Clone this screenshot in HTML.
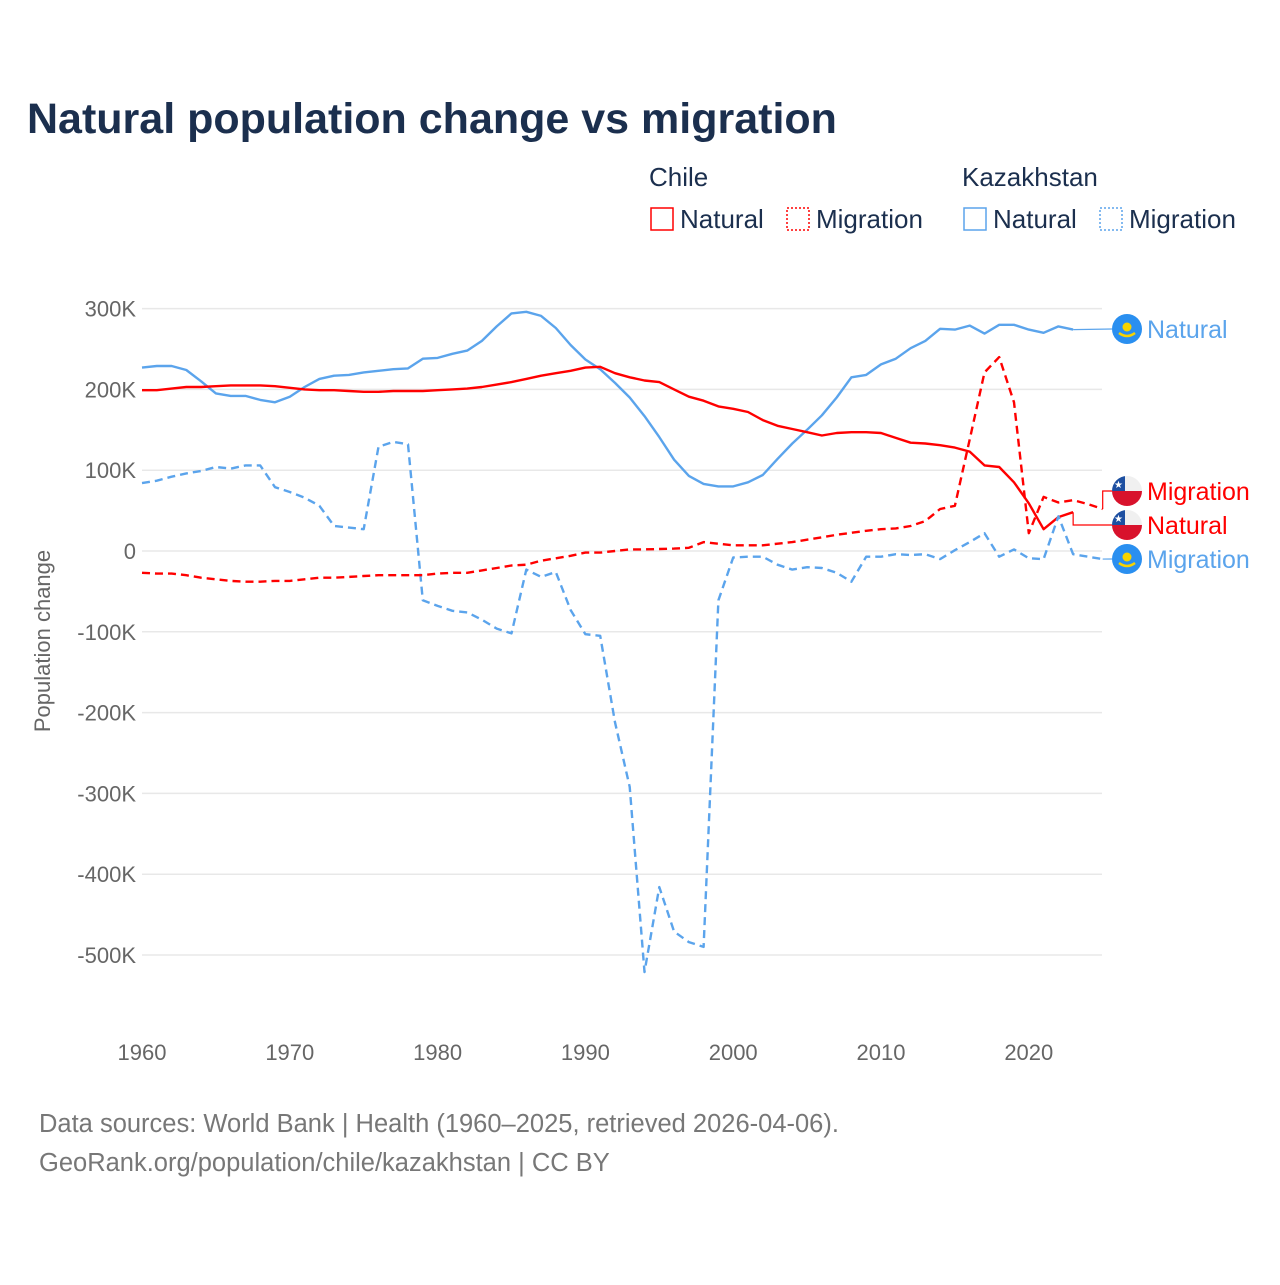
<!DOCTYPE html>
<html><head><meta charset="utf-8"><style>
body{margin:0;background:#fff;width:1280px;height:1280px;overflow:hidden;font-family:"Liberation Sans",sans-serif}
svg text{font-family:"Liberation Sans",sans-serif}
</style></head><body>
<svg id="chart" width="1280" height="1280" xmlns="http://www.w3.org/2000/svg">
<text x="27" y="133" font-size="43" font-weight="bold" fill="#1b2f4e">Natural population change vs migration</text>
<g font-size="26" fill="#1b2f4e">
 <text x="649" y="186">Chile</text>
 <text x="962" y="186">Kazakhstan</text>
 <g><rect x="651" y="208" width="22" height="22" fill="none" stroke="#ff0000" stroke-width="1.5"/><text x="680" y="228" fill="#1b2f4e">Natural</text></g>
 <g><rect x="787" y="208" width="22" height="22" fill="none" stroke="#ff0000" stroke-width="1.5" stroke-dasharray="2,2"/><text x="816" y="228" fill="#1b2f4e">Migration</text></g>
 <g><rect x="964" y="208" width="22" height="22" fill="none" stroke="#5ba4ec" stroke-width="1.5"/><text x="993" y="228" fill="#1b2f4e">Natural</text></g>
 <g><rect x="1100" y="208" width="22" height="22" fill="none" stroke="#5ba4ec" stroke-width="1.5" stroke-dasharray="2,2"/><text x="1129" y="228" fill="#1b2f4e">Migration</text></g>
</g>
<g id="grid"></g>
<g id="yticks" font-size="22" fill="#666" text-anchor="end"></g>
<g id="xticks" font-size="22" fill="#666" text-anchor="middle"></g>
<text transform="translate(50,641) rotate(-90)" font-size="22" fill="#666" text-anchor="middle">Population change</text>
<g id="series"></g>
<g id="labels" font-size="25"></g>
<text x="39" y="1132" font-size="25.5" fill="#777">Data sources: World Bank | Health (1960–2025, retrieved 2026-04-06).</text>
<text x="39" y="1171" font-size="25.5" fill="#777">GeoRank.org/population/chile/kazakhstan | CC BY</text>
</svg>
<script>
const yTickValues=[300,200,100,0,-100,-200,-300,-400,-500];
const yTickLabels=["300K","200K","100K","0","-100K","-200K","-300K","-400K","-500K"];
const xTickYears=[1960,1970,1980,1990,2000,2010,2020];
const startYear=1960;
const chileNatural=[199,199,201,203,203,204,205,205,205,204,202,200,199,199,198,197,197,198,198,198,199,200,201,203,206,209,213,217,220,223,227,228,220,215,211,209,200,191,186,179,176,172,162,155,151,147,143,146,147,147,146,140,134,133,131,128,123,106,104,85,59,27,42,48];
const chileMigration=[-27,-28,-28,-30,-33,-35,-37,-38,-38,-37,-37,-35,-33,-33,-32,-31,-30,-30,-30,-30,-28,-27,-27,-24,-21,-18,-17,-12,-9,-6,-2,-2,0,2,2,2.5,3,4,11,9,7,7,7,9,11,14,17,20,22.5,25,27,28,31,37,52,56,138,221,240,184,22,67,60,63,58,52];
const kazNatural=[227,229,229,224,210,195,192,192,187,184,191,203,213,217,218,221,223,225,226,238,239,244,248,260,278,294,296,291,276,255,237,225,208,190,167,141,113,93,83,80,80,85,94,114,133,150,168,190,215,218,231,238,251,260,275,274,279,269,280,280,274,270,278,274];
const kazMigration=[84,87,92,96,99,104,102,106,106,79,73,66,56,31,29,27,129,135,132,-61,-68,-74,-76,-85,-96,-102,-23,-32,-26,-73,-103,-105,-212,-292,-521,-416,-471,-484,-490,-61,-8,-7,-7,-17,-23,-20,-21,-27,-38,-7,-7,-4,-5,-4,-10,1,11,22,-7,2,-9,-10,43,-4,-7,-10];

const NS="http://www.w3.org/2000/svg";
const X=y=>142+(y-1960)*14.78;
const Y=v=>551-v*0.808;
function mk(tag,attrs,parent){const e=document.createElementNS(NS,tag);for(const k in attrs)e.setAttribute(k,attrs[k]);parent.appendChild(e);return e;}
const grid=document.getElementById('grid'),yt=document.getElementById('yticks'),xt=document.getElementById('xticks');
yTickValues.forEach((v,i)=>{
 const l=mk('line',{x1:142,x2:1102,y1:Y(v),y2:Y(v),stroke:'#e8e8e8','stroke-width':1.5},grid);
 
 
 const t=mk('text',{x:136,y:Y(v)+8},yt);t.textContent=yTickLabels[i];
 
 
});
xTickYears.forEach(y=>{
 const t=mk('text',{x:X(y),y:1060},xt);t.textContent=y;
 
 
});
const ser=document.getElementById('series');
function line(data,color,dash,name){
 const d=data.map((v,i)=>(i?'L':'M')+X(startYear+i).toFixed(1)+','+Y(v).toFixed(1)).join('');
 const p=mk('path',{d:d,fill:'none',stroke:color,'stroke-width':2.4,'stroke-linejoin':'round'},ser);
 if(dash)p.setAttribute('stroke-dasharray','8,5');
 
 
 return p;
}
const RED='#ff0000',BLUE='#5ba4ec';
line(kazNatural,BLUE,false,'line-kazakhstan-natural');
line(chileNatural,RED,false,'line-chile-natural');
line(kazMigration,BLUE,true,'line-kazakhstan-migration');
line(chileMigration,RED,true,'line-chile-migration');

const lab=document.getElementById('labels');
function lastPt(arr){const i=arr.length-1;return [X(startYear+i),Y(arr[i])];}
function endLabel(arr,ly,color,flag,text,name){
 const [ex,ey]=lastPt(arr);
 let d;
 if(Math.abs(ey-ly)<2)d=`M${ex},${ey}L1112,${ly}`;
 else{d=`M${ex},${ey}V${ly}H1112`;}
 const c=mk('path',{d:d,fill:'none',stroke:color,'stroke-width':1.2},lab);
 
 
 const g=mk('g',{transform:`translate(1127,${ly})`},lab);
 
 
 if(flag==='cl'){
  mk('clipPath',{id:'cp'+ly},g).appendChild(document.createElementNS(NS,'circle')).setAttribute('r','15');
  const gg=mk('g',{'clip-path':`url(#cp${ly})`},g);
  mk('rect',{x:-15,y:-15,width:30,height:15,fill:'#f0f0f0'},gg);
  mk('rect',{x:-15,y:0,width:30,height:15,fill:'#d8122c'},gg);
  mk('rect',{x:-15,y:-15,width:13,height:15,fill:'#1d4fa1'},gg);
  const s=mk('text',{x:-8.5,y:-3,'font-size':10,fill:'#fff','text-anchor':'middle'},gg);s.textContent='★';
 }else{
  mk('circle',{r:15,fill:'#2a8ff0'},g);
  mk('circle',{r:4.5,cy:-2,fill:'#f7d300'},g);
  mk('path',{d:'M-8,4Q0,10 8,4',fill:'none',stroke:'#f7d300','stroke-width':2.5},g);
 }
 const t=mk('text',{x:1147,y:ly+9,fill:color},lab);t.textContent=text;
 
 
}
endLabel(kazNatural,329,BLUE,'kz','Natural','label-kazakhstan-natural');
endLabel(chileMigration,491,RED,'cl','Migration','label-chile-migration');
endLabel(chileNatural,525,RED,'cl','Natural','label-chile-natural');
endLabel(kazMigration,559,BLUE,'kz','Migration','label-kazakhstan-migration');
</script>
</body></html>
